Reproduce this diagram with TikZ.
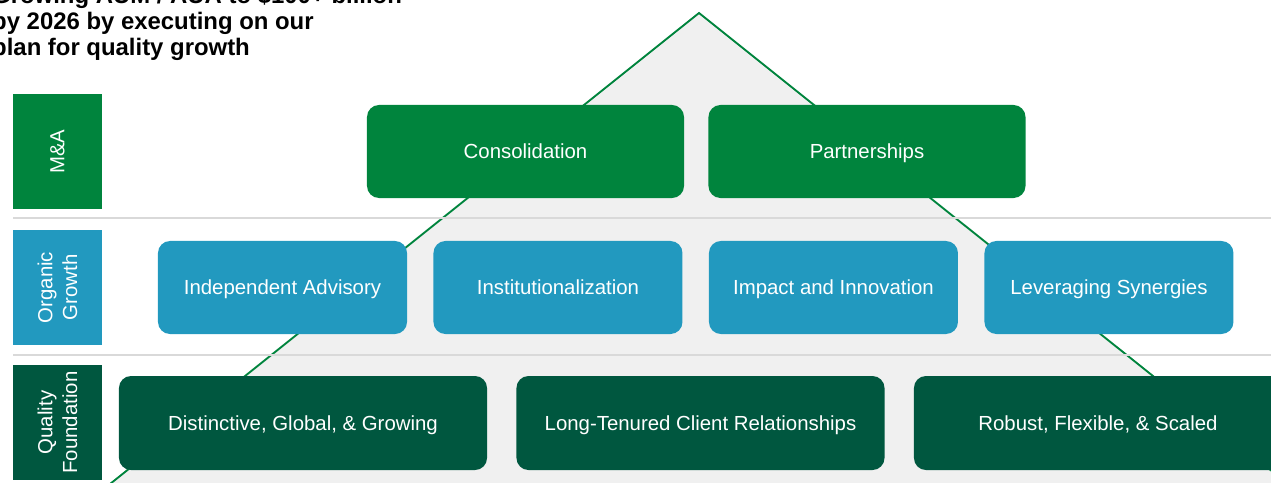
\documentclass[tikz,border=0pt]{standalone}
\usepackage{fontspec}
\setmainfont{Liberation Sans}
\usetikzlibrary{positioning}

\definecolor{mnagreen}{HTML}{00843D}
\definecolor{orgblue}{HTML}{2299BF}
\definecolor{qualgreen}{HTML}{00573F}
\definecolor{pyrgray}{HTML}{F0F0F0}
\definecolor{rulegray}{HTML}{D9D9D9}

\begin{document}
\begin{tikzpicture}[
    x=0.03cm, y=-0.03cm,
    font=\fontsize{17.4}{21}\selectfont,
    box/.style={rectangle, rounded corners=0.36cm, text=white, align=center, minimum height=2.79cm, text height=15pt, text depth=2.5pt},
    topbox/.style={box, fill=mnagreen, minimum width=9.51cm},
    midbox/.style={box, fill=orgblue, minimum width=7.47cm},
    basebox/.style={box, fill=qualgreen, minimum width=11.04cm, minimum height=2.82cm},
    tier/.style={rectangle, text=white, align=center, minimum width=3.45cm, minimum height=2.67cm, rotate=90},
    rule/.style={draw=rulegray, line width=1.4pt},
    edge/.style={draw=mnagreen, line width=1.6pt}
]
    \useasboundingbox (0,0) rectangle (1271,483);
    \clip (0,0) rectangle (1271,483);

    % pyramid behind the boxes
    \coordinate (apex) at (699,13);
    \coordinate (baseL) at (90,500);
    \coordinate (baseR) at (1308,500);
    \fill[pyrgray] (apex) -- (baseL) -- (baseR) -- cycle;
    \draw[edge] (baseL) -- (apex) -- (baseR);

    \draw[rule] (13,218) -- (1271,218);
    \draw[rule] (13,355) -- (1271,355);

    \node[anchor=south west, inner sep=0, align=left, font=\bfseries\fontsize{20.4}{22.4}\selectfont] (headline) at (-8,61)
        {Growing AUM / AUA to \$100+ billion\\by 2026 by executing on our\\plan for quality growth};

    \node[tier, fill=mnagreen] (mna) at (57.5,151.5) {M\&A};
    \node[tier, fill=orgblue] (organic) at (57.5,287.5) {Organic\\Growth};
    \node[tier, fill=qualgreen] (quality) at (57.5,422.5) {Quality\\Foundation};

    \node[topbox] (consol) at (525.5,151.5) {Consolidation};
    \node[topbox, right=0.72cm of consol] (partner) {Partnerships};

    \node[midbox] (advisory) at (282.5,287.5) {Independent Advisory};
    \node[midbox, right=0.78cm of advisory] (institution) {Institutionalization};
    \node[midbox, right=0.78cm of institution] (impact) {Impact and Innovation};
    \node[midbox, right=0.78cm of impact] (synergy) {Leveraging Synergies};

    \node[basebox] (distinct) at (303,423) {Distinctive, Global, \& Growing};
    \node[basebox, right=0.87cm of distinct] (tenure) {Long-Tenured Client Relationships};
    \node[basebox, right=0.87cm of tenure] (robust) {Robust, Flexible, \& Scaled};
\end{tikzpicture}
\end{document}
